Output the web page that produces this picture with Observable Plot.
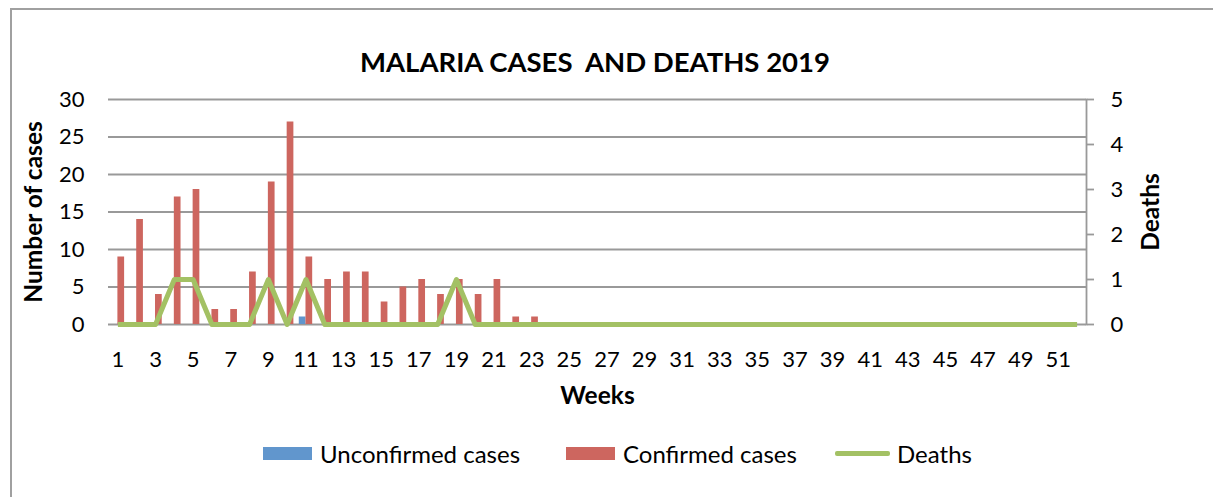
<!DOCTYPE html>
<html>
<head>
<meta charset="utf-8">
<script src="https://cdn.jsdelivr.net/npm/d3@7"></script>
<script src="https://cdn.jsdelivr.net/npm/@observablehq/plot@0.6"></script>
<style>
  html, body { margin: 0; padding: 0; background: #fff; }
  body { width: 1213px; height: 497px; overflow: hidden; position: relative; font-family: Lato, "Open Sans", sans-serif; color: #000; }
  #frame { position: absolute; left: 10px; top: 8px; width: 1300px; height: 600px; border-left: 2px solid #a0a0a0; border-top: 2px solid #a0a0a0; }
  #title { position: absolute; left: 0; width: 1190px; top: 45px; text-align: center; font-size: 27.5px; font-weight: bold; white-space: pre; }
  #chart { position: absolute; left: 0; top: 85px; }
  .sw { position: absolute; }
  .lt { position: absolute; font-size: 24px; line-height: 26px; top: 441px; white-space: nowrap; }
</style>
</head>
<body>
<div id="frame"></div>
<div id="title">MALARIA CASES  AND DEATHS 2019</div>
<div id="chart"></div>
<div class="sw" style="left:263px;top:447px;width:49px;height:13px;background:#6196CD"></div>
<div class="lt" style="left:320px">Unconfirmed cases</div>
<div class="sw" style="left:566px;top:447px;width:49px;height:13px;background:#CD665F"></div>
<div class="lt" style="left:623px">Confirmed cases</div>
<div class="sw" style="left:835px;top:451px;width:55px;height:5px;border-radius:2px;background:#A3C164"></div>
<div class="lt" style="left:897px">Deaths</div>
<script>
const weeks = [1,2,3,4,5,6,7,8,9,10,11,12,13,14,15,16,17,18,19,20,21,22,23,24,25,26,
  27,28,29,30,31,32,33,34,35,36,37,38,39,40,41,42,43,44,45,46,47,48,49,50,51,52];
const unconfirmed = [0,0,0,0,0,0,0,0,0,0,1,0,0,0,0,0,0,0,0,0,0,0,0,0,0,0,
  0,0,0,0,0,0,0,0,0,0,0,0,0,0,0,0,0,0,0,0,0,0,0,0,0,0];
const confirmed = [9,14,4,17,18,2,2,7,19,27,9,6,7,7,3,5,6,4,6,4,6,1,1,0,0,0,
  0,0,0,0,0,0,0,0,0,0,0,0,0,0,0,0,0,0,0,0,0,0,0,0,0,0];
const deaths = [0,0,0,1,1,0,0,0,1,0,1,0,0,0,0,0,0,0,1,0,0,0,0,0,0,0,
  0,0,0,0,0,0,0,0,0,0,0,0,0,0,0,0,0,0,0,0,0,0,0,0,0,0];
const caseTicks = [0,5,10,15,20,25,30];
const deathTicks = [0,1,2,3,4,5];
const weekTickLabels = [1,3,5,7,9,11,13,15,17,19,21,23,25,27,29,31,33,35,37,39,41,43,45,47,49,51];

const BLUE = "#6196CD", RED = "#CD665F", GREEN = "#A3C164", GRID = "#999999";
const k = caseTicks[caseTicks.length - 1] / deathTicks[deathTicks.length - 1];

const rows = weeks.map((w, i) => ({week: w, unconfirmed: unconfirmed[i], confirmed: confirmed[i], deaths: deaths[i]}));

const chart = Plot.plot({
  width: 1213,
  height: 340,
  marginLeft: 108,
  marginRight: 127,
  marginTop: 14,
  marginBottom: 101,
  style: {fontFamily: "Lato, 'Open Sans', sans-serif", fontSize: "22px", color: "#000", background: "transparent", overflow: "visible"},
  x: {type: "band", domain: weeks, padding: 0},
  y: {domain: [0, 30]},
  marks: [
    Plot.ruleY(caseTicks, {stroke: GRID, strokeWidth: 1.8}),
    Plot.frame({anchor: "right", stroke: GRID, strokeWidth: 1.8}),
    Plot.barY(rows, {x: "week", y: "unconfirmed", fill: BLUE, insetLeft: 2.7, insetRight: 9.4}),
    Plot.barY(rows, {x: "week", y: "confirmed", fill: RED, insetLeft: 9.4, insetRight: 2.7}),
    Plot.line(rows, {x: "week", y: d => d.deaths * k, stroke: GREEN, strokeWidth: 5, strokeLinejoin: "round", strokeLinecap: "butt"}),
    Plot.axisY({anchor: "left", ticks: caseTicks, tickSize: 0, tickPadding: 24, label: null, fill: "#000"}),
    Plot.axisY({anchor: "right", ticks: deathTicks.map(d => d * k), tickFormat: d => String(d / k), tickSize: 7, tickPadding: 17, stroke: GRID, strokeWidth: 1.8, label: null, fill: "#000"}),
    Plot.axisX({ticks: weekTickLabels, tickSize: 0, tickPadding: 27, label: null, fill: "#000"}),
    Plot.text(["Number of cases"], {frameAnchor: "left", dx: -74, rotate: -90, textAnchor: "middle", fontWeight: "bold", fontSize: 24.5, fill: "#000"}),
    Plot.text(["Deaths"], {frameAnchor: "right", dx: 65, rotate: -90, textAnchor: "middle", fontWeight: "bold", fontSize: 24.5, fill: "#000"}),
    Plot.text(["Weeks"], {frameAnchor: "bottom", dy: 79, textAnchor: "middle", fontWeight: "bold", fontSize: 24.5, fill: "#000"})
  ]
});
document.getElementById("chart").appendChild(chart);
</script>
</body>
</html>
